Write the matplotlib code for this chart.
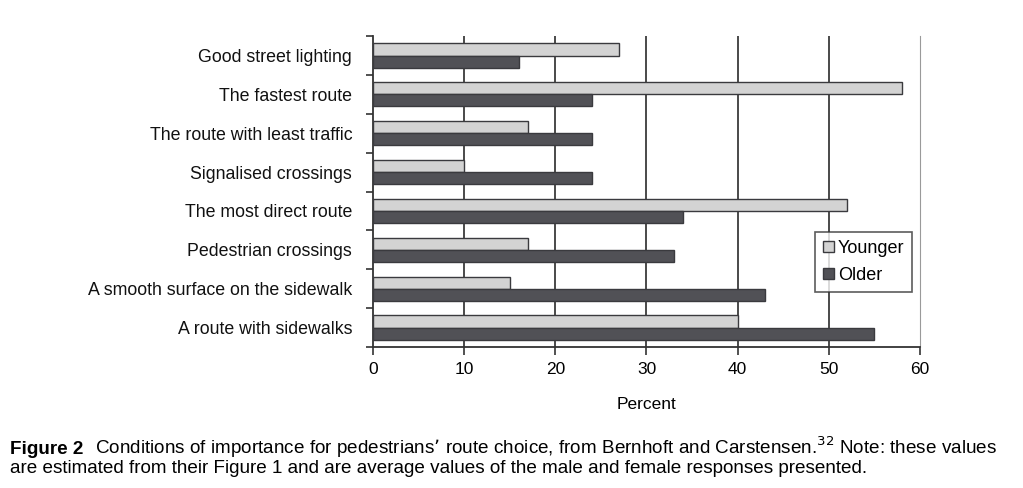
import numpy as np
import matplotlib.pyplot as plt
from matplotlib.patches import Patch

# categories from top to bottom as in the figure
categories = ["Good street lighting", "The fastest route", "The route with least traffic",
              "Signalised crossings", "The most direct route", "Pedestrian crossings",
              "A smooth surface on the sidewalk", "A route with sidewalks"]
younger = [27, 58, 17, 10, 52, 17, 15, 40]
older = [16, 24, 24, 24, 34, 33, 43, 55]
xticks = [0, 10, 20, 30, 40, 50, 60]

plt.rcParams['font.family'] = ['Liberation Sans', 'DejaVu Sans']

c_young = "#d3d3d3"
c_old = "#515156"
c_edge = "#3a3a3e"

fig = plt.figure(figsize=(10.23, 4.88), dpi=100)
ax = fig.add_axes([0.3646, 0.289, 0.5347, 0.637])

y = np.arange(len(categories))
h = 0.31
ax.barh(y - h/2, younger, height=h, color=c_young, edgecolor=c_edge, linewidth=1.0, zorder=3)
ax.barh(y + h/2, older, height=h, color=c_old, edgecolor=c_edge, linewidth=1.0, zorder=3)

ax.set_ylim(len(categories) - 0.5, -0.5)
ax.set_xlim(0, 60)
ax.set_yticks(y)
ax.set_yticklabels(categories, fontsize=12.8, color="#111111")
ax.set_yticks(np.arange(-0.5, len(categories)), minor=True)
ax.tick_params(axis="y", which="major", length=0, pad=15)
ax.tick_params(axis="y", which="minor", length=5, width=1.2, color="#333333")
ax.set_xticks(xticks)
ax.tick_params(axis="x", length=6, width=1.2, color="#333333", labelsize=12.5, pad=5)
ax.set_xlabel("Percent", fontsize=12.5, labelpad=14)

for v in xticks[1:-1]:
    ax.axvline(v, color="#3c3c3c", linewidth=1.3, zorder=1)

ax.spines["top"].set_visible(False)
ax.spines["right"].set_color("#9a9a9a")
ax.spines["left"].set_color("#333333")
ax.spines["bottom"].set_color("#333333")
ax.spines["left"].set_linewidth(1.3)
ax.spines["bottom"].set_linewidth(1.3)

handles = [Patch(facecolor=c_young, edgecolor=c_edge, label="Younger"),
           Patch(facecolor=c_old, edgecolor=c_edge, label="Older")]
leg = ax.legend(handles=handles, loc="upper left", bbox_to_anchor=(0.792, 0.40),
                fontsize=13, frameon=True, fancybox=False, handlelength=0.6,
                handleheight=0.6, handletextpad=0.2, borderpad=0.45, labelspacing=0.55)
leg.get_frame().set_edgecolor("#333333")
leg.get_frame().set_linewidth(1.2)

cap_font = ['Liberation Sans Narrow', 'Liberation Sans', 'DejaVu Sans']
fig.text(0.01, 0.07, "Figure 2", fontsize=13.6, fontweight="bold", family=cap_font)
fig.text(0.093, 0.07,
         "Conditions of importance for pedestrians\u2019 route choice, from Bernhoft and Carstensen.$^{32}$ Note: these values",
         fontsize=13.6, family=cap_font)
fig.text(0.01, 0.031,
         "are estimated from their Figure 1 and are average values of the male and female responses presented.",
         fontsize=13.6, family=cap_font)

fig.savefig("out.png", dpi=100)
